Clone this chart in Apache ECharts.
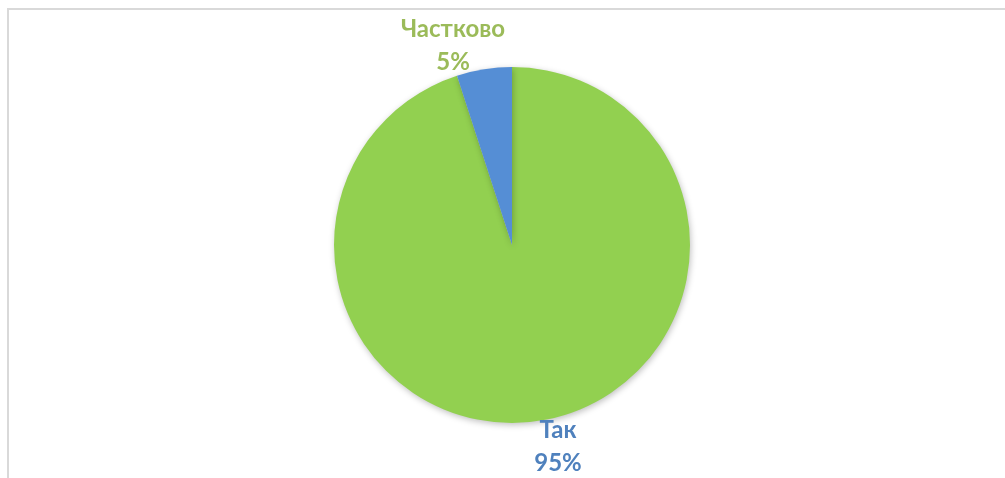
<!DOCTYPE html>
<html>
<head>
<meta charset="utf-8">
<script src="https://cdn.jsdelivr.net/npm/echarts@6/dist/echarts.min.js"></script>
<style>
html,body{margin:0;padding:0;background:#fff;}
#chart{width:1005px;height:478px;}
</style>
</head>
<body>
<div id="chart"></div>
<script>
const categories = ['Так', 'Частково'];
const values = [95, 5];
const sliceColors = ['#92D050', '#558ED5'];
const labelColors = ['#4F81BD', '#9BBB59'];

const chart = echarts.init(document.getElementById('chart'), null, {renderer: 'canvas'});
const labelCenters = [[558, 447], [453, 46]];

chart.setOption({
  animation: false,
  backgroundColor: '#ffffff',
  graphic: [
    {type: 'rect', shape: {x: 7, y: 8, width: 998, height: 2}, style: {fill: '#d9d9d9'}, silent: true},
    {type: 'rect', shape: {x: 7, y: 8, width: 2, height: 470}, style: {fill: '#d9d9d9'}, silent: true}
  ],
  series: [{
    type: 'pie',
    center: [512, 245],
    radius: 178,
    startAngle: 90,
    clockwise: true,
    avoidLabelOverlap: false,
    itemStyle: {
      borderWidth: 0,
      shadowBlur: 6,
      shadowOffsetX: 1,
      shadowOffsetY: 2,
      shadowColor: 'rgba(0,0,0,0.25)'
    },
    label: {
      show: true,
      position: 'outside',
      formatter: '{b}\n{d}%',
      fontFamily: 'Lato',
      fontWeight: 'bold',
      fontSize: 24,
      lineHeight: 33,
      align: 'center'
    },
    labelLine: {show: false},
    labelLayout: function (p) {
      const c = labelCenters[p.dataIndex];
      return {x: c[0], y: c[1], align: 'center', verticalAlign: 'middle'};
    },
    data: categories.map((name, i) => ({
      name: name,
      value: values[i],
      itemStyle: {color: sliceColors[i]},
      label: {color: labelColors[i]}
    }))
  }]
});
</script>
</body>
</html>
